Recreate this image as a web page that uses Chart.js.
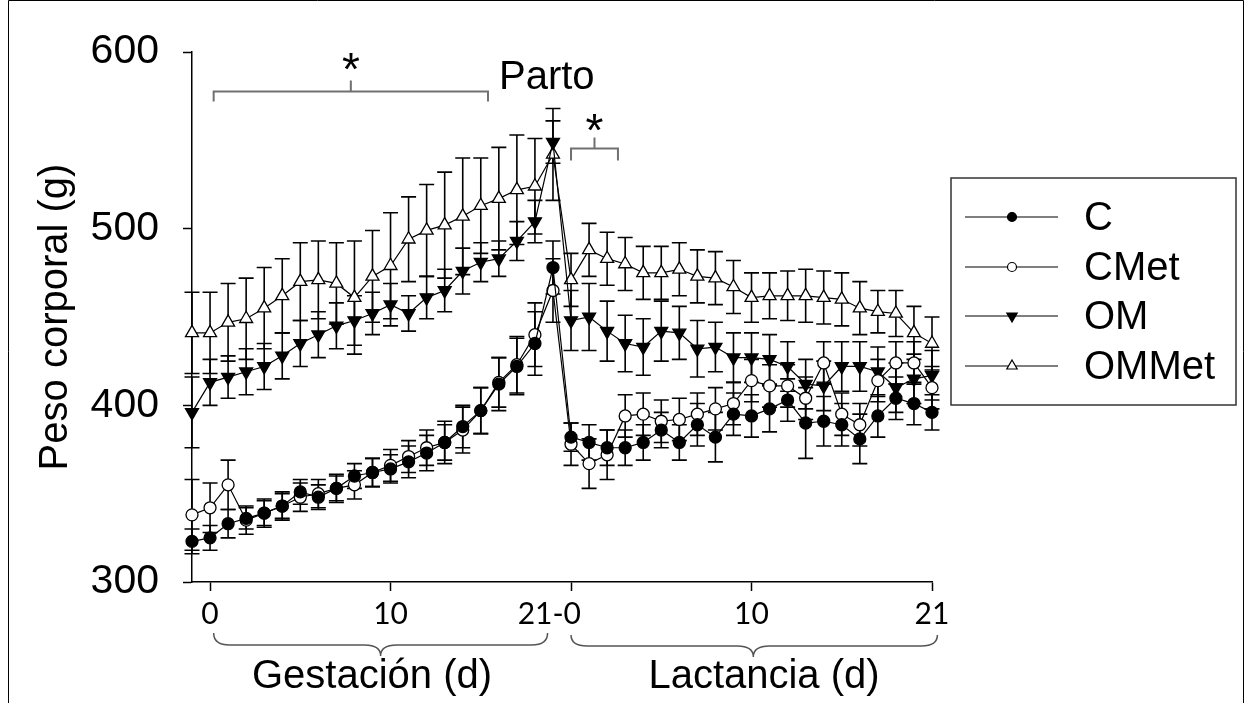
<!DOCTYPE html>
<html>
<head>
<meta charset="utf-8">
<script src="https://cdn.jsdelivr.net/npm/chart.js@4/dist/chart.umd.min.js"></script>
<style>
html,body{margin:0;padding:0;background:#fff;}
#wrap{position:relative;width:1245px;height:703px;}
</style>
</head>
<body>
<div id="wrap"><canvas id="chart" width="1245" height="703"></canvas></div>
<script>
// days: gestation points then lactation points
var days = ['G-1','G0','G1','G2','G3','G4','G5','G6','G7','G8','G9','G10','G11','G12','G13','G14','G15','G16','G17','G18','G19',
            'L0','L1','L2','L3','L4','L5','L6','L7','L8','L9','L10','L11','L12','L13','L14','L15','L16','L17','L18','L19','L20'];
var tickIdx = [1, 11, 21, 31, 41];
var tickText = ['0', '10', '21-0', '10', '21'];

var seriesNames = ['C', 'CMet', 'OM', 'OMMet'];

var valC = [323,325,333,336,339,343,351,348,353,360,362,364,368,373,379,388,397,412,422,435,478,
            382,379,376,376,379,386,379,389,382,395,394,398,403,390,391,389,381,394,404,401,396];
var seC  = [7,7,8,6,7,7,7,7,7,7,8,8,9,10,10,12,13,15,16,18,15,
            8,10,10,10,10,10,10,12,14,12,12,13,12,20,14,12,14,12,12,12,10];

var valCMet = [338,342,355,335,339,343,348,350,353,355,362,366,371,376,379,386,397,413,423,440,465,
               378,367,372,394,395,391,392,395,398,401,414,411,411,404,424,395,389,414,424,424,410];
var seCMet  = [20,14,14,8,8,8,8,8,8,8,8,9,9,10,12,13,13,14,16,18,18,
               12,14,14,12,12,12,12,12,12,12,12,12,12,12,12,12,12,12,12,12,12];

var valOM = [396,413,416,419,422,428,435,440,445,448,452,457,452,461,465,476,481,483,493,504,549,
             448,450,442,435,433,442,441,432,433,427,427,426,422,412,411,422,422,419,410,415,417];
var seOM  = [20,13,12,13,13,13,13,13,13,14,12,12,10,12,12,13,11,10,11,12,12,
             17,19,17,16,16,17,15,16,14,14,14,14,14,14,14,14,14,14,14,14,14];

var valOMMet = [441,441,447,449,455,462,470,471,469,461,473,479,494,499,502,507,513,517,522,524,542,
                471,488,483,480,475,475,477,473,472,467,461,462,462,462,461,460,455,453,452,441,435];
var seOMMet  = [23,23,22,23,23,21,22,22,23,32,26,30,24,26,30,33,27,29,31,27,26,
                15,15,15,15,15,15,15,15,15,15,14,13,14,15,15,15,15,12,13,15,15];

var errs = [seC, seCMet, seOM, seOMMet];

function mkSet(name, data, style, fill, rot){
  return {
    label: name, data: data,
    borderColor: '#000', borderWidth: 1.2, tension: 0,
    pointStyle: style, pointRotation: rot,
    pointRadius: style === 'circle' ? 6 : 7.5,
    pointBackgroundColor: fill, pointBorderColor: '#000', pointBorderWidth: 1.3
  };
}

var errorBars = {
  id: 'errorBars',
  beforeDatasetsDraw: function(chart){
    var ctx = chart.ctx, xs = chart.scales.x, ys = chart.scales.y;
    ctx.save();
    ctx.strokeStyle = '#000';
    ctx.lineWidth = 1.6;
    chart.data.datasets.forEach(function(ds, k){
      ds.data.forEach(function(v, i){
        var x = xs.getPixelForValue(i);
        var y1 = ys.getPixelForValue(v + errs[k][i]);
        var y2 = ys.getPixelForValue(v - errs[k][i]);
        ctx.beginPath();
        ctx.moveTo(x, y1); ctx.lineTo(x, y2);
        ctx.moveTo(x - 7.5, y1); ctx.lineTo(x + 7.5, y1);
        ctx.moveTo(x - 7.5, y2); ctx.lineTo(x + 7.5, y2);
        ctx.stroke();
      });
    });
    ctx.restore();
  }
};

function bracket(ctx, x1, x2, y, drop, xm, rise){
  ctx.beginPath();
  ctx.moveTo(x1, y + drop); ctx.lineTo(x1, y); ctx.lineTo(x2, y); ctx.lineTo(x2, y + drop);
  ctx.moveTo(xm, y); ctx.lineTo(xm, y - rise);
  ctx.stroke();
}

function brace(ctx, x1, x2, xm, yTop, yMid, yTip){
  ctx.beginPath();
  ctx.moveTo(x1, yTop);
  ctx.quadraticCurveTo(x1, yMid, x1 + 16, yMid);
  ctx.lineTo(xm - 16, yMid);
  ctx.quadraticCurveTo(xm, yMid, xm, yTip);
  ctx.quadraticCurveTo(xm, yMid, xm + 16, yMid);
  ctx.lineTo(x2 - 16, yMid);
  ctx.quadraticCurveTo(x2, yMid, x2, yTop);
  ctx.stroke();
}

function star(ctx, x, yc){
  var m = ctx.measureText('*');
  var top = m.actualBoundingBoxAscent, bot = m.actualBoundingBoxDescent;
  ctx.fillText('*', x, yc + (top - bot) / 2);
}

var extras = {
  id: 'extras',
  afterDraw: function(chart){
    var ctx = chart.ctx, xs = chart.scales.x, ys = chart.scales.y;
    ctx.save();
    // significance brackets
    ctx.strokeStyle = '#707070';
    ctx.lineWidth = 2;
    var yb1 = ys.getPixelForValue(577.7);
    bracket(ctx, xs.getPixelForValue(1.2), xs.getPixelForValue(16.4), yb1, 10, xs.getPixelForValue(8.8), 11);
    var yb2 = ys.getPixelForValue(545.4);
    bracket(ctx, xs.getPixelForValue(21), xs.getPixelForValue(23.6), yb2, 12, xs.getPixelForValue(22.3), 11);
    ctx.fillStyle = '#000';
    ctx.font = '46px "Liberation Sans", Arial, sans-serif';
    ctx.textAlign = 'center';
    ctx.textBaseline = 'alphabetic';
    star(ctx, xs.getPixelForValue(8.8), yb1 - 30);
    star(ctx, xs.getPixelForValue(22.3), yb2 - 26);
    ctx.textAlign = 'left';
    ctx.font = '40px "Liberation Sans", Arial, sans-serif';
    ctx.fillText('Parto', 499, 89);

    // "21-0" label, shifted so the 0 sits on the lactation tick
    ctx.textAlign = 'right';
    ctx.textBaseline = 'middle';
    ctx.font = '30px Lato, "Open Sans", sans-serif';
    ctx.fillText(tickText[2], xs.getPixelForValue(tickIdx[2]) + 10, 614);

    // braces under the x axis
    ctx.strokeStyle = '#555';
    ctx.lineWidth = 1.5;
    brace(ctx, xs.getPixelForValue(1.2), xs.getPixelForValue(19.7), xs.getPixelForValue(10.45), 633, 645, 656);
    brace(ctx, xs.getPixelForValue(21), xs.getPixelForValue(41.3), xs.getPixelForValue(31.1), 635, 646, 657);
    ctx.fillStyle = '#000';
    ctx.textAlign = 'center';
    ctx.textBaseline = 'alphabetic';
    ctx.font = '40px "Liberation Sans", Arial, sans-serif';
    ctx.fillText('Gestación (d)', 372, 688);
    ctx.fillText('Lactancia (d)', 764, 688);

    // legend box
    ctx.strokeStyle = '#333';
    ctx.lineWidth = 1.5;
    ctx.strokeRect(951, 178, 285, 227);
    var rowY = [217, 267, 316, 366];
    ctx.textAlign = 'left';
    ctx.textBaseline = 'middle';
    ctx.font = '40px "Liberation Sans", Arial, sans-serif';
    chart.data.datasets.forEach(function(ds, k){
      var y = rowY[k];
      ctx.strokeStyle = '#000';
      ctx.lineWidth = 1.2;
      ctx.beginPath(); ctx.moveTo(965, y); ctx.lineTo(1058, y); ctx.stroke();
      ctx.fillStyle = ds.pointBackgroundColor;
      Chart.helpers.drawPoint(ctx, {pointStyle: ds.pointStyle, rotation: ds.pointRotation,
        radius: ds.pointStyle === 'circle' ? 4.5 : 6, borderWidth: 1.2}, 1012, y);
      ctx.fillStyle = '#000';
      ctx.fillText(seriesNames[k], 1084, y + 2);
    });

    // outer frame
    ctx.strokeStyle = '#000';
    ctx.lineWidth = 1;
    ctx.beginPath();
    ctx.moveTo(8.5, 703); ctx.lineTo(8.5, 0.5); ctx.lineTo(1243.5, 0.5); ctx.lineTo(1243.5, 703);
    ctx.stroke();
    ctx.restore();
  }
};

new Chart(document.getElementById('chart'), {
  type: 'line',
  data: {
    labels: days,
    datasets: [
      mkSet('C', valC, 'circle', '#000', 0),
      mkSet('CMet', valCMet, 'circle', '#fff', 0),
      mkSet('OM', valOM, 'triangle', '#000', 180),
      mkSet('OMMet', valOMMet, 'triangle', '#fff', 0)
    ]
  },
  options: {
    responsive: false,
    animation: false,
    layout: {padding: {top: 52, right: 313, bottom: 0, left: 0}},
    plugins: {legend: {display: false}, tooltip: {enabled: false}},
    scales: {
      x: {
        type: 'category',
        offset: false,
        afterBuildTicks: function(s){ s.ticks = s.ticks.filter(function(t){ return tickIdx.indexOf(t.value) >= 0; }); },
        afterFit: function(s){ s.height = 121; },
        grid: {drawOnChartArea: false, color: '#000', tickLength: 9, tickWidth: 1.5},
        border: {color: '#000', width: 1.5},
        ticks: {
          autoSkip: false, maxRotation: 0, color: '#000', padding: 5,
          font: {family: 'Lato', size: 30},
          // the "21-0" label is drawn by the extras plugin
          callback: function(v){ var k = tickIdx.indexOf(v); return k === 2 ? '' : tickText[k]; }
        }
      },
      y: {
        min: 300, max: 600,
        afterFit: function(s){ s.width = 192; },
        grid: {drawOnChartArea: false, color: '#000', tickLength: 9, tickWidth: 1.5},
        border: {color: '#000', width: 1.5},
        ticks: {stepSize: 100, color: '#000', padding: 24, font: {family: 'Liberation Sans', size: 41}},
        title: {display: true, text: 'Peso corporal (g)', color: '#000',
                font: {family: 'Liberation Sans', size: 40}, padding: {top: 32, bottom: 0}}
      }
    }
  },
  plugins: [errorBars, extras]
});
</script>
</body>
</html>
